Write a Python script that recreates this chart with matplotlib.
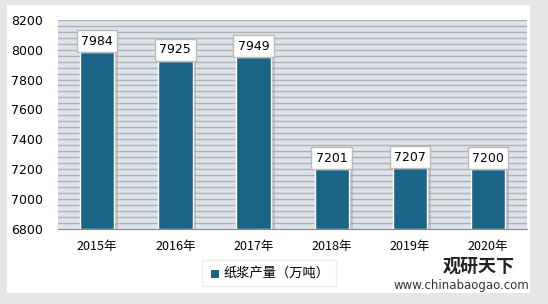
import matplotlib
matplotlib.use('Agg')
import matplotlib.pyplot as plt
from matplotlib.patches import Rectangle
import numpy as np

plt.rcParams['font.family'] = ['Noto Sans CJK SC', 'DejaVu Sans']

# du lieu
years = ['2015年', '2016年', '2017年', '2018年', '2019年', '2020年']
output = [7984, 7925, 7949, 7201, 7207, 7200]
series_name = '纸浆产量（万吨）'

bar_color = '#1b6487'

fig = plt.figure(figsize=(5.48, 3.04), dpi=100)
fig.patch.set_facecolor('#e6e6e6')
# khung trang ben trong
fig.add_artist(Rectangle((0.013, 0.035), 0.955, 0.95, transform=fig.transFigure,
                         facecolor='white', edgecolor='none', zorder=0))

ax = fig.add_axes([0.106, 0.247, 0.856, 0.688])
ax.set_facecolor('#dde3ea')
x = np.arange(len(years))

# duong luoi ngang
for v in np.arange(6840, 8200, 40):
    ax.axhline(v, color='#b0b2b5', lw=1.0, zorder=1)
ax.axhline(8200, color='#b0b2b5', lw=1.0, zorder=1)

# bong do
ax.bar(x + 0.05, np.array(output) - 6800, bottom=6800, width=0.44,
       color='#9aa0a6', alpha=0.5, zorder=2)
bars = ax.bar(x, np.array(output) - 6800, bottom=6800, width=0.44,
              color=bar_color, edgecolor='white', linewidth=1.0, zorder=3)

for xi, v in zip(x, output):
    ax.text(xi, v + 30, str(v), ha='center', va='bottom', fontsize=9,
            family=['DejaVu Sans'], zorder=5,
            bbox=dict(boxstyle='square,pad=0.35', facecolor='white',
                      edgecolor='#bbbbbb', linewidth=1.0))

ax.set_xlim(-0.5, len(years) - 0.5)
ax.set_ylim(6800, 8200)
ax.set_yticks(np.arange(6800, 8201, 200))
ax.set_yticklabels([str(v) for v in range(6800, 8201, 200)], fontsize=9,
                   family=['DejaVu Sans'])
ax.set_xticks(x)
ax.set_xticklabels(years, fontsize=9)
ax.tick_params(axis='x', length=0, pad=8)
ax.tick_params(axis='y', length=0, pad=11)
for s in ['top', 'right', 'left']:
    ax.spines[s].set_visible(False)
ax.spines['bottom'].set_color('#888888')

# chu thich
fig.add_artist(Rectangle((0.368, 0.06), 0.245, 0.085, transform=fig.transFigure,
                         facecolor='white', edgecolor='#eeeeee', zorder=4))
fig.add_artist(Rectangle((0.385, 0.087), 0.014, 0.026, transform=fig.transFigure,
                         facecolor=bar_color, edgecolor='none', zorder=5))
fig.text(0.408, 0.1, series_name, fontsize=9.5, va='center', ha='left', zorder=5)

# logo
fig.text(0.94, 0.125, '观研天下', fontsize=13, fontweight='bold', ha='right',
         va='center', color='#222222')
fig.text(0.965, 0.06, 'www.chinabaogao.com', fontsize=8.5, ha='right',
         va='center', color='#333333', family=['DejaVu Sans'])

fig.savefig('out.png', dpi=100, facecolor=fig.get_facecolor())
